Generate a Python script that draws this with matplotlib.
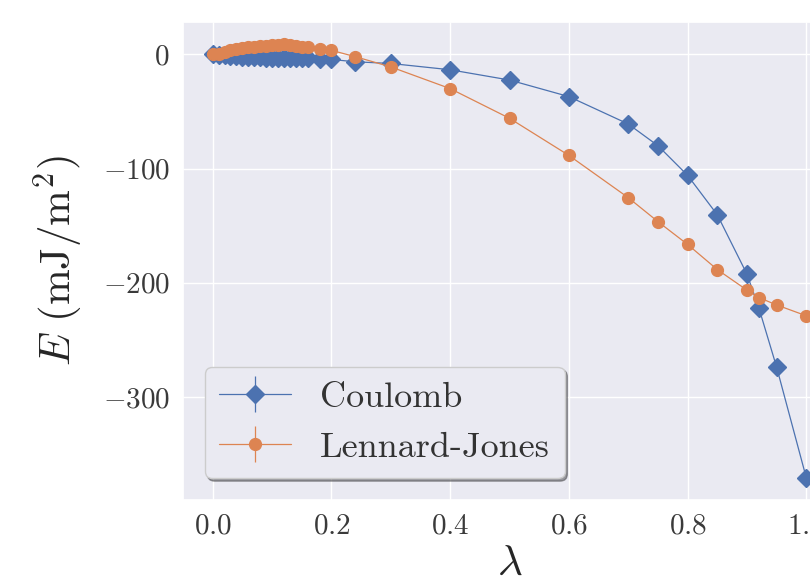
import numpy as np
import matplotlib
matplotlib.use('Agg')
import matplotlib.pyplot as plt
import seaborn as sns

# lambda values (shared by both series)
lam = [0.0, 0.01, 0.02, 0.03, 0.04, 0.05, 0.06, 0.07, 0.08, 0.09, 0.10,
       0.11, 0.12, 0.13, 0.14, 0.15, 0.16, 0.18, 0.20,
       0.24, 0.30, 0.40, 0.50, 0.60, 0.70, 0.75, 0.80, 0.85, 0.90, 0.92, 0.95, 1.0]

coulomb = [0.0, -0.5, -1.0, -1.5, -1.8, -2.0, -2.2, -2.4, -2.6, -2.8, -3.0,
           -3.0, -3.2, -3.3, -3.4, -3.5, -3.6, -4.0, -4.5,
           -6.5, -8.0, -13.5, -22.5, -37.0, -61.0, -80.0, -106.0, -140.5, -192.5, -222.0, -274.0, -371.0]
coulomb_err = [0.3] * len(lam)

lj = [0.0, 0.5, 2.0, 3.5, 4.5, 5.5, 6.0, 6.5, 7.0, 7.5, 8.0,
      8.5, 9.0, 8.0, 7.0, 6.5, 6.0, 5.0, 3.5,
      -2.0, -11.0, -30.0, -56.0, -88.5, -125.5, -146.5, -166.5, -188.5, -206.5, -213.0, -219.5, -229.0]
lj_err = [0.3] * len(lam)

labels = ['Coulomb', 'Lennard-Jones']
yticks = [0, -100, -200, -300]
xticks = [0.0, 0.2, 0.4, 0.6, 0.8, 1.0]

sns.set_theme(style='darkgrid')
plt.rcParams['font.family'] = 'serif'
plt.rcParams['font.serif'] = ['cmr10', 'DejaVu Serif']
plt.rcParams['mathtext.fontset'] = 'cm'
plt.rcParams['axes.formatter.use_mathtext'] = True

fig = plt.figure(figsize=(8.1, 5.86), dpi=100)
ax = fig.add_axes([183 / 810, 1 - 500 / 586, 653 / 810, 478 / 586])

c = sns.color_palette('deep')
ax.errorbar(lam, coulomb, yerr=coulomb_err, marker='D', markersize=9.5, lw=0.9,
            color=c[0], label=labels[0])
ax.errorbar(lam, lj, yerr=lj_err, marker='o', markersize=8.5, lw=0.9,
            color=c[1], label=labels[1])

ax.set_xticks(xticks)
ax.set_yticks(yticks)
ax.tick_params(labelsize=21, labelcolor='#3a3a3a')
ax.set_xlabel(r'$\lambda$', fontsize=31, labelpad=4, color='#262626')
ax.set_ylabel(r'$E\ (\mathrm{mJ/m^2})$', fontsize=31, labelpad=12, color='#262626')

leg = ax.legend(loc='lower left', fontsize=26, shadow=True, frameon=True, fancybox=True,
                borderaxespad=0.6)
for t in leg.get_texts():
    t.set_color('#333333')

fig.savefig('out.png', dpi=100)
